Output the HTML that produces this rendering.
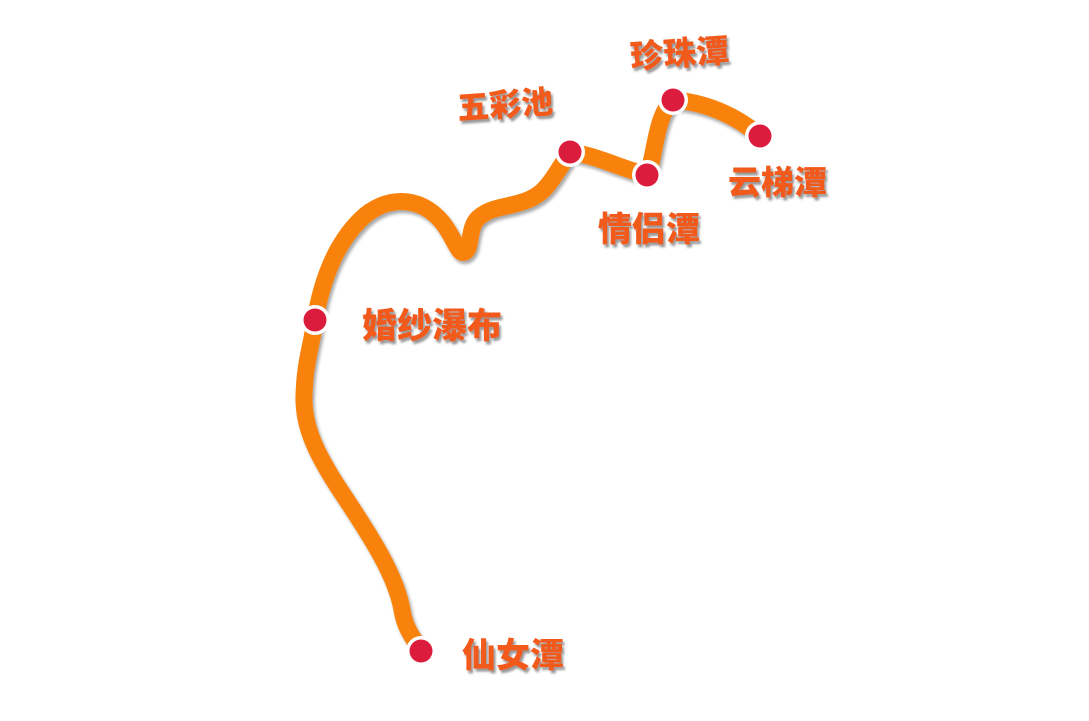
<!DOCTYPE html>
<html><head><meta charset="utf-8"><style>
html,body{margin:0;padding:0;background:#fff;}
svg text{font-family:"Liberation Sans","Noto Sans CJK SC",sans-serif;font-weight:900;fill:#f25a1c;}
</style></head><body>
<svg width="1089" height="716" viewBox="0 0 1089 716" xmlns="http://www.w3.org/2000/svg">
<defs>
<filter id="sh" x="-20%" y="-20%" width="140%" height="140%">
<feDropShadow dx="2" dy="3" stdDeviation="1.5" flood-color="#000" flood-opacity="0.35"/>
</filter>
<filter id="ts" x="-10%" y="-20%" width="120%" height="150%">
<feDropShadow dx="2" dy="3" stdDeviation="1" flood-color="#555" flood-opacity="0.6"/>
</filter>
</defs>
<g filter="url(#sh)" fill="none" stroke="#f98208" stroke-width="17" stroke-linecap="round" stroke-linejoin="round">
<path d="M421,651 C412,636 405,628 402,610 C396,575 370,535 340,490 C315,452 303,425 304,395 C305,360 312,345 315,320 C322,280 335,245 360,220 C385,195 420,195 442,222 C455,238 458,256 465,252 C472,248 468,228 478,218 C490,208 500,208 515,204 C545,197 548,185 570,152 C595,155 620,168 647,175 C655,160 655,115 673,100 C705,102 735,115 760,136"/>
</g>
<g>
<circle cx="421" cy="651" r="15" fill="#fff"/><circle cx="421" cy="651" r="11.5" fill="#dc1c3c"/>
<circle cx="315" cy="320" r="15" fill="#fff"/><circle cx="315" cy="320" r="11.5" fill="#dc1c3c"/>
<circle cx="570" cy="152" r="15" fill="#fff"/><circle cx="570" cy="152" r="11.5" fill="#dc1c3c"/>
<circle cx="647" cy="175" r="15" fill="#fff"/><circle cx="647" cy="175" r="11.5" fill="#dc1c3c"/>
<circle cx="673" cy="100" r="15" fill="#fff"/><circle cx="673" cy="100" r="11.5" fill="#dc1c3c"/>
<circle cx="760" cy="136" r="15" fill="#fff"/><circle cx="760" cy="136" r="11.5" fill="#dc1c3c"/>
</g>
<g filter="url(#ts)">
<text x="457" y="116" font-size="32" transform="rotate(-4 505 103)">五彩池</text>
<text x="630" y="65" font-size="33" transform="rotate(-4 682 52)">珍珠潭</text>
<text x="598" y="241" font-size="34">情侣潭</text>
<text x="728" y="194" font-size="33">云梯潭</text>
<text x="362" y="338" font-size="35">婚纱瀑布</text>
<text x="462" y="667" font-size="34">仙女潭</text>
</g>
</svg>
</body></html>
